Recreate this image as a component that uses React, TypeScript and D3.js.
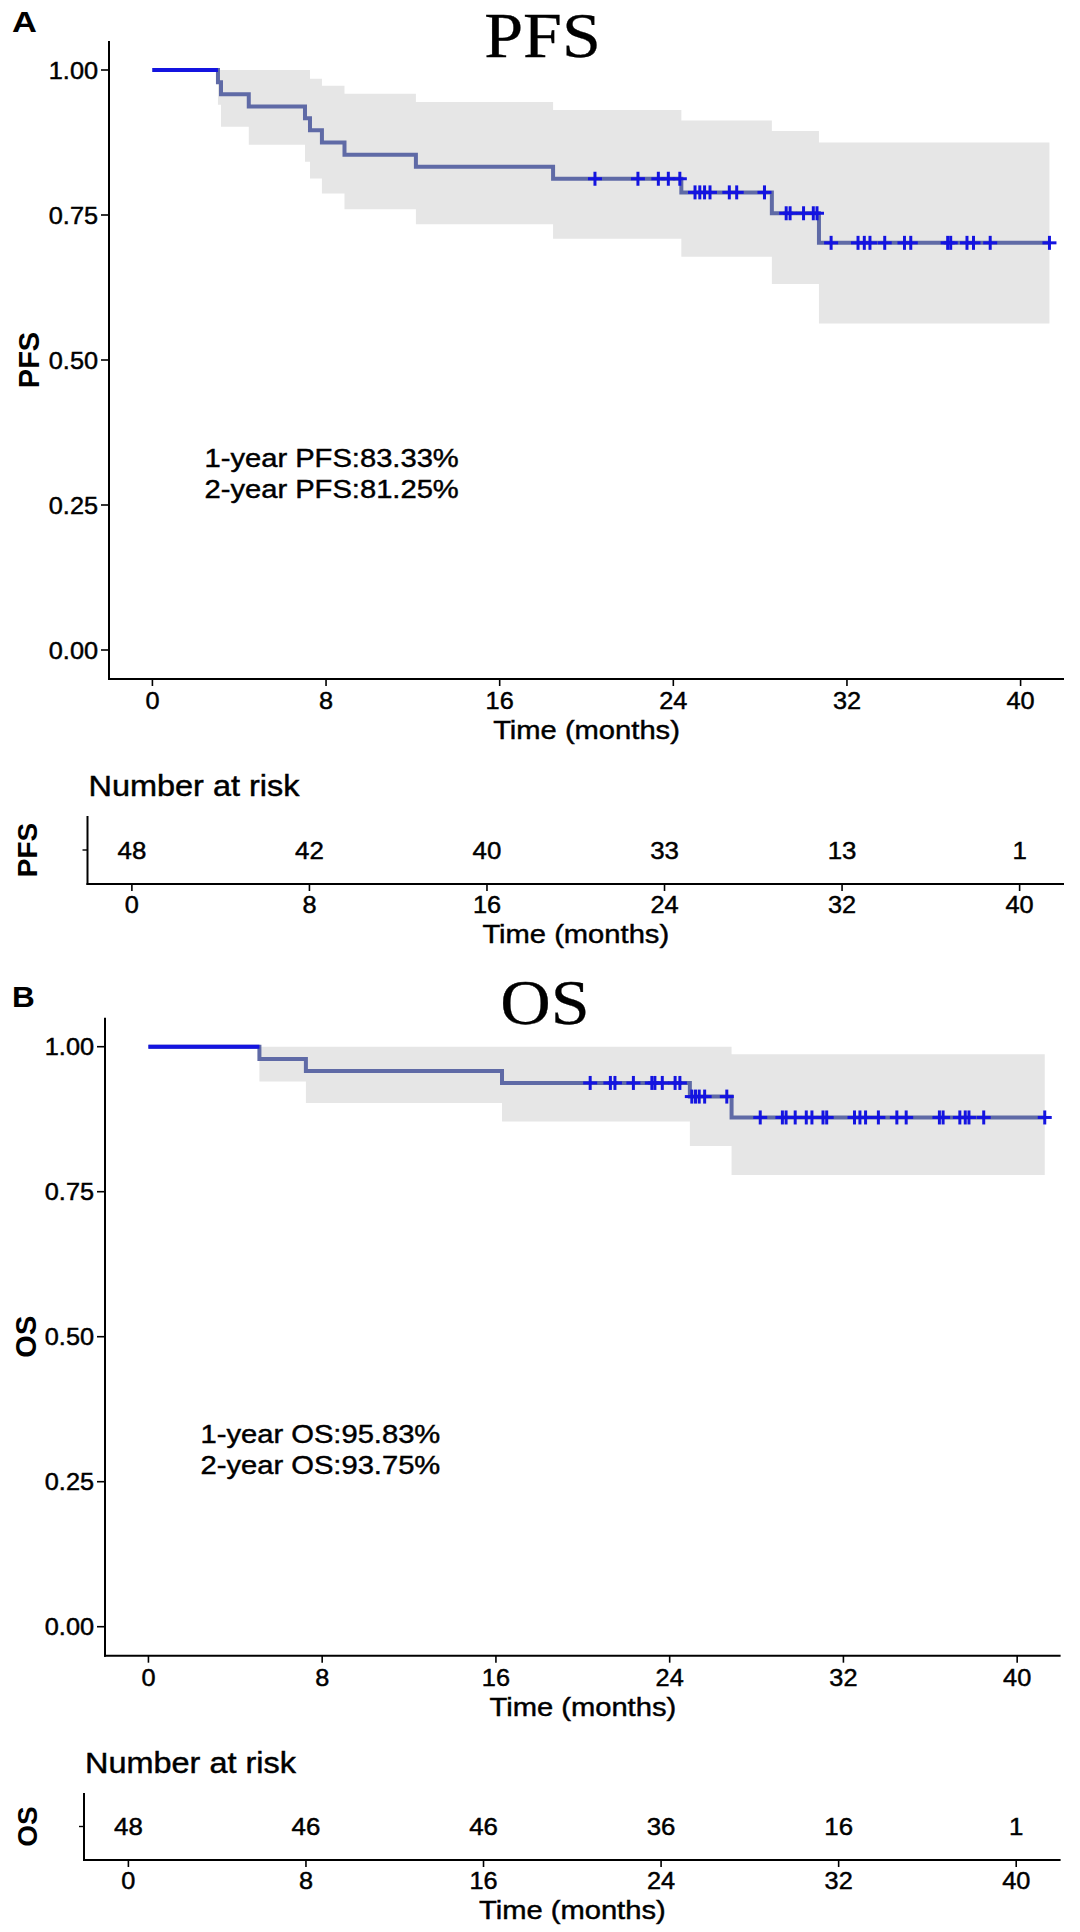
import React from 'react';
import * as d3 from 'd3';

// ---------- data ----------
const timeTicks = [0, 8, 16, 24, 32, 40];
const survTicks = [0, 0.25, 0.5, 0.75, 1];
const survTickLabels = ['0.00', '0.25', '0.50', '0.75', '1.00'];
const timeDomain = [-2, 42];
const survDomain = [-0.05, 1.05];

// PFS Kaplan-Meier steps
const pfsTimes = [0, 3.02, 3.16, 4.44, 7.03, 7.26, 7.81, 8.85, 12.14, 18.46, 24.37, 28.54, 30.71];
const pfsSurv = [1, 0.979, 0.958, 0.937, 0.917, 0.896, 0.875, 0.854, 0.833, 0.8125, 0.789, 0.753, 0.702];
const pfsLower = [1, 0.94, 0.902, 0.871, 0.842, 0.813, 0.787, 0.76, 0.734, 0.709, 0.678, 0.631, 0.563];
const pfsUpper = [1, 1, 1, 1, 1, 0.985, 0.973, 0.959, 0.945, 0.931, 0.913, 0.895, 0.875];
const pfsEnd = 41.33;
const pfsCensor = [20.39, 22.37, 23.31, 23.77, 24.3, 25.0, 25.22, 25.44, 25.69, 26.58, 26.92, 28.2,
  29.2, 29.38, 30.0, 30.45, 30.62, 31.27, 32.51, 32.8, 33.06, 33.74, 34.65, 34.94, 36.64, 36.78,
  37.53, 37.83, 38.6, 41.33];
const pfsRisk = [48, 42, 40, 33, 13, 1];
const pfsNotes = ['1-year PFS:83.33%', '2-year PFS:81.25%'];

// OS Kaplan-Meier steps
const osTimes = [0, 5.11, 7.25, 16.28, 24.93, 26.85];
const osSurv = [1, 0.979, 0.958, 0.9375, 0.914, 0.878];
const osLower = [1, 0.94, 0.903, 0.871, 0.829, 0.779];
const osUpper = [1, 1, 1, 1, 1, 0.987];
const osEnd = 41.27;
const osCensor = [20.34, 21.27, 21.48, 22.33, 23.18, 23.32, 23.66, 24.25, 24.47, 25.02, 25.19, 25.36,
  25.61, 26.63, 28.17, 29.19, 29.36, 29.78, 30.29, 30.55, 31.06, 31.23, 32.51, 32.76, 33.02, 33.61,
  34.46, 34.89, 36.42, 36.59, 37.36, 37.61, 37.78, 38.46, 41.27];
const osRisk = [48, 46, 46, 36, 16, 1];
const osNotes = ['1-year OS:95.83%', '2-year OS:93.75%'];

// ---------- styling ----------
const SANS = "'Liberation Sans', Arial, Helvetica, sans-serif";
const SERIF = "'Liberation Serif', 'Times New Roman', serif";
const SX = 1.1;
const BLUE = '#1414e0';
const LINE_MIX = '#5f6aa6';
const BAND = '#e6e6e6';

type Panel = {
  name: string; letter: string;
  times: number[]; surv: number[]; lower: number[]; upper: number[]; end: number;
  censor: number[]; risk: number[]; notes: string[];
  plotLeft: number; plotRight: number; plotTop: number; plotBottom: number;
  riskLeft: number; riskRight: number; riskTop: number; riskBottom: number; riskTitleY: number;
  titleX: number; titleY: number; letterX: number; letterY: number; letterSx: number;
  yTitleX: number; riskLabelX: number;
};

const panels: Panel[] = [
  {
    name: 'PFS', letter: 'A',
    times: pfsTimes, surv: pfsSurv, lower: pfsLower, upper: pfsUpper, end: pfsEnd,
    censor: pfsCensor, risk: pfsRisk, notes: pfsNotes,
    plotLeft: 109, plotRight: 1064, plotTop: 41, plotBottom: 679,
    riskLeft: 87.5, riskRight: 1064, riskTop: 816, riskBottom: 884, riskTitleY: 796,
    titleX: 542.5, titleY: 57, letterX: 12, letterY: 32, letterSx: 1.15,
    yTitleX: 39, riskLabelX: 37,
  },
  {
    name: 'OS', letter: 'B',
    times: osTimes, surv: osSurv, lower: osLower, upper: osUpper, end: osEnd,
    censor: osCensor, risk: osRisk, notes: osNotes,
    plotLeft: 105, plotRight: 1060.6, plotTop: 1017.7, plotBottom: 1655.7,
    riskLeft: 84, riskRight: 1060.6, riskTop: 1793, riskBottom: 1860, riskTitleY: 1773,
    titleX: 545, titleY: 1024, letterX: 12, letterY: 1007, letterSx: 1.05,
    yTitleX: 36, riskLabelX: 37,
  },
];

function ST(props: { x: number; y: number; anchor?: string; size: number; weight?: string; sx?: number; family?: string; heavy?: number; children: React.ReactNode }) {
  const { x, y, anchor = 'start', size, weight = 'normal', sx = SX, family = SANS, heavy = 0.45 } = props;
  return (
    <text transform={`translate(${x},${y}) scale(${sx},1)`} textAnchor={anchor}
      fontFamily={family} fontSize={size} fontWeight={weight} fill="#000"
      stroke={heavy > 0 ? '#000' : 'none'} strokeWidth={heavy}>
      {props.children}
    </text>
  );
}

function KMPanel({ p }: { p: Panel }) {
  const x = d3.scaleLinear().domain(timeDomain).range([p.plotLeft, p.plotRight]);
  const y = d3.scaleLinear().domain(survDomain).range([p.plotBottom, p.plotTop]);
  const xr = d3.scaleLinear().domain(timeDomain).range([p.riskLeft, p.riskRight]);

  const pts = p.times.map((t, i) => ({ t, s: p.surv[i], lo: p.lower[i], hi: p.upper[i] }));
  const last = pts[pts.length - 1];
  const full = [...pts, { ...last, t: p.end }];

  const line = d3.line<any>().x(d => x(d.t)).y(d => y(d.s)).curve(d3.curveStepAfter);
  const area = d3.area<any>().x(d => x(d.t)).y0(d => y(d.lo)).y1(d => y(d.hi)).curve(d3.curveStepAfter);
  const bandPts = full.slice(1);
  const firstSeg = [full[0], { ...full[0], t: full[1].t }];

  const survAt = (t: number) => {
    let s = p.surv[0];
    for (let i = 0; i < p.times.length; i++) if (p.times[i] <= t) s = p.surv[i];
    return s;
  };

  const midY = (p.plotTop + p.plotBottom) / 2;
  const midX = (p.plotLeft + p.plotRight) / 2;
  const riskMid = (p.riskTop + p.riskBottom) / 2;

  return (
    <g>
      {/* panel letter & title */}
      <ST x={p.letterX} y={p.letterY} size={30} weight="bold" sx={p.letterSx} heavy={0}>{p.letter}</ST>
      <ST x={p.titleX} y={p.titleY} size={63} anchor="middle" sx={1.11} family={SERIF} heavy={0.3}>{p.name}</ST>

      {/* confidence band */}
      <path d={area(bandPts) || ''} fill={BAND} stroke="none" />
      {/* survival curve */}
      <path d={line(full) || ''} fill="none" stroke={LINE_MIX} strokeWidth={4} />
      <path d={line(firstSeg) || ''} fill="none" stroke={BLUE} strokeWidth={4} />
      {/* censor marks */}
      {p.censor.map((t, i) => {
        const cx = x(t), cy = y(survAt(t));
        return (
          <g key={i} stroke={BLUE} strokeWidth={3}>
            <line x1={cx - 7} x2={cx + 7} y1={cy} y2={cy} />
            <line x1={cx} x2={cx} y1={cy - 7} y2={cy + 7} />
          </g>
        );
      })}

      {/* axes */}
      <line x1={p.plotLeft} x2={p.plotLeft} y1={p.plotTop} y2={p.plotBottom + 1} stroke="#000" strokeWidth={2} />
      <line x1={p.plotLeft - 1} x2={p.plotRight} y1={p.plotBottom} y2={p.plotBottom} stroke="#000" strokeWidth={2} />
      {survTicks.map((v, i) => (
        <g key={'yt' + i}>
          <line x1={p.plotLeft - 8} x2={p.plotLeft} y1={y(v)} y2={y(v)} stroke="#000" strokeWidth={1.6} />
          <ST x={p.plotLeft - 11} y={y(v) + 8.5} size={23} anchor="end">{survTickLabels[i]}</ST>
        </g>
      ))}
      {timeTicks.map((v, i) => (
        <g key={'xt' + i}>
          <line x1={x(v)} x2={x(v)} y1={p.plotBottom} y2={p.plotBottom + 7} stroke="#000" strokeWidth={1.6} />
          <ST x={x(v)} y={p.plotBottom + 30} size={23} anchor="middle">{v}</ST>
        </g>
      ))}
      <ST x={midX} y={p.plotBottom + 60} size={26.5} anchor="middle">Time (months)</ST>
      <text transform={`translate(${p.yTitleX},${midY}) rotate(-90)`} textAnchor="middle"
        fontFamily={SANS} fontSize={29} fontWeight="bold">{p.name}</text>

      {/* annotation */}
      {p.notes.map((n, i) => (
        <ST key={'n' + i} x={x(2.4)} y={y(0.316) + i * 31} size={26.5}>{n}</ST>
      ))}

      {/* risk table */}
      <ST x={p.riskLeft + 1} y={p.riskTitleY} size={29.5}>Number at risk</ST>
      <line x1={p.riskLeft} x2={p.riskLeft} y1={p.riskTop} y2={p.riskBottom + 1} stroke="#000" strokeWidth={2} />
      <line x1={p.riskLeft - 1} x2={p.riskRight} y1={p.riskBottom} y2={p.riskBottom} stroke="#000" strokeWidth={2} />
      <line x1={p.riskLeft - 5} x2={p.riskLeft} y1={riskMid} y2={riskMid} stroke="#000" strokeWidth={1.4} />
      <text transform={`translate(${p.riskLabelX},${riskMid}) rotate(-90)`} textAnchor="middle"
        fontFamily={SANS} fontSize={28} fontWeight="bold">{p.name}</text>
      {timeTicks.map((v, i) => (
        <g key={'rt' + i}>
          <ST x={xr(v)} y={riskMid + 8.5} size={23.5} anchor="middle">{p.risk[i]}</ST>
          <line x1={xr(v)} x2={xr(v)} y1={p.riskBottom} y2={p.riskBottom + 7} stroke="#000" strokeWidth={1.6} />
          <ST x={xr(v)} y={p.riskBottom + 29} size={23} anchor="middle">{v}</ST>
        </g>
      ))}
      <ST x={(p.riskLeft + p.riskRight) / 2} y={p.riskBottom + 59} size={26.5} anchor="middle">Time (months)</ST>
    </g>
  );
}

export default function App() {
  return (
    <svg width={1080} height={1932} viewBox="0 0 1080 1932"
      style={{ position: 'absolute', left: 0, top: 0, display: 'block', background: '#fff' }}>
      <rect x={0} y={0} width={1080} height={1932} fill="#fff" />
      {panels.map(p => <KMPanel key={p.name} p={p} />)}
    </svg>
  );
}
